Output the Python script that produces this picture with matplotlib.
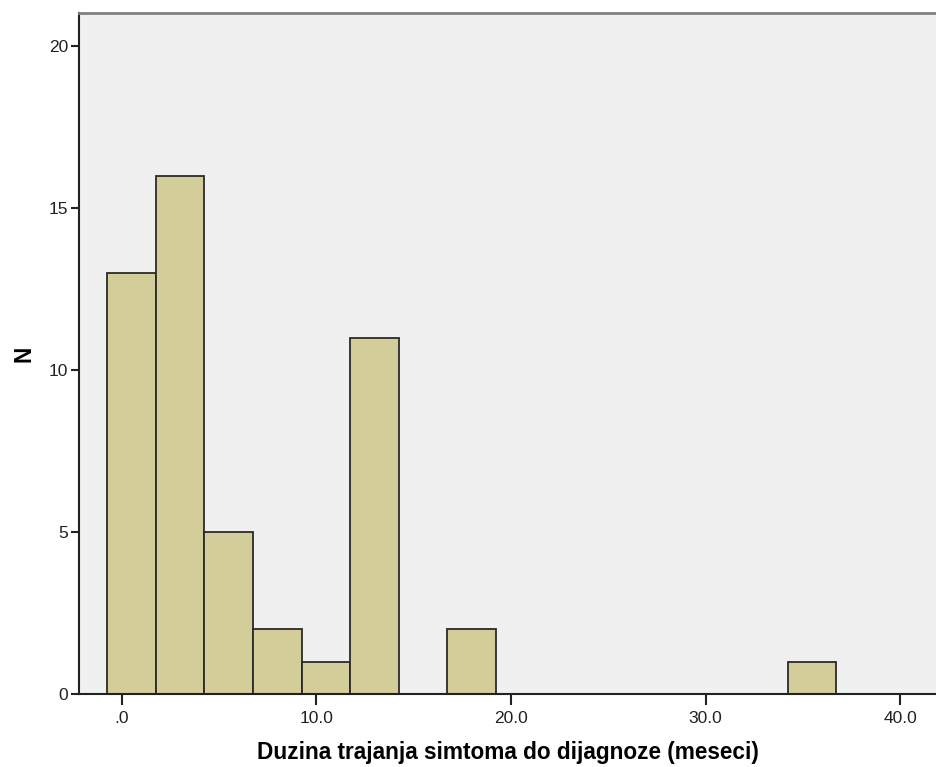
import matplotlib
matplotlib.use("Agg")
import matplotlib.pyplot as plt
import numpy as np

# Histogram data (bin edges start at -0.77, width 2.5 months)
bin_start = -0.77
bin_width = 2.5
counts = [13, 16, 5, 2, 1, 11, 0, 2, 0, 0, 0, 0, 0, 0, 1]
x_ticks = [0, 10, 20, 30, 40]
x_tick_labels = [".0", "10.0", "20.0", "30.0", "40.0"]
y_ticks = [0, 5, 10, 15, 20]

plt.rcParams['font.family'] = ['Liberation Sans', 'DejaVu Sans']

fig = plt.figure(figsize=(9.36, 7.67), dpi=100)
ax = fig.add_axes([79/936, 73/767, 1 - 79/936, (694-13)/767])
ax.set_facecolor('#F0F0F0')

lefts = [bin_start + i * bin_width for i in range(len(counts))]
for l, c in zip(lefts, counts):
    if c > 0:
        ax.bar(l, c, width=bin_width, align='edge', color='#D3CE99',
               edgecolor='#2a2a2a', linewidth=1.3)

ax.set_xlim(-2.21, 41.85)
ax.set_ylim(0, 21.02)
ax.set_xticks(x_ticks)
ax.set_xticklabels(x_tick_labels)
ax.set_yticks(y_ticks)
ax.tick_params(axis='x', length=8, width=1.5, color='#222222', labelsize=12.5, pad=4,
               labelcolor='#222222')
ax.tick_params(axis='y', length=6, width=1.5, color='#222222', labelsize=12.5, pad=2,
               labelcolor='#222222')

for s in ['left', 'bottom']:
    ax.spines[s].set_color('#222222')
    ax.spines[s].set_linewidth(1.5)
ax.spines['top'].set_color('#808080')
ax.spines['top'].set_linewidth(2)
ax.spines['right'].set_visible(False)

ax.set_xlabel('Duzina trajanja simtoma do dijagnoze (meseci)', fontsize=16.3,
              fontweight='bold', labelpad=11)
ax.set_ylabel('N', fontsize=16.3, fontweight='bold', labelpad=9)

fig.savefig('out.png', dpi=100)
